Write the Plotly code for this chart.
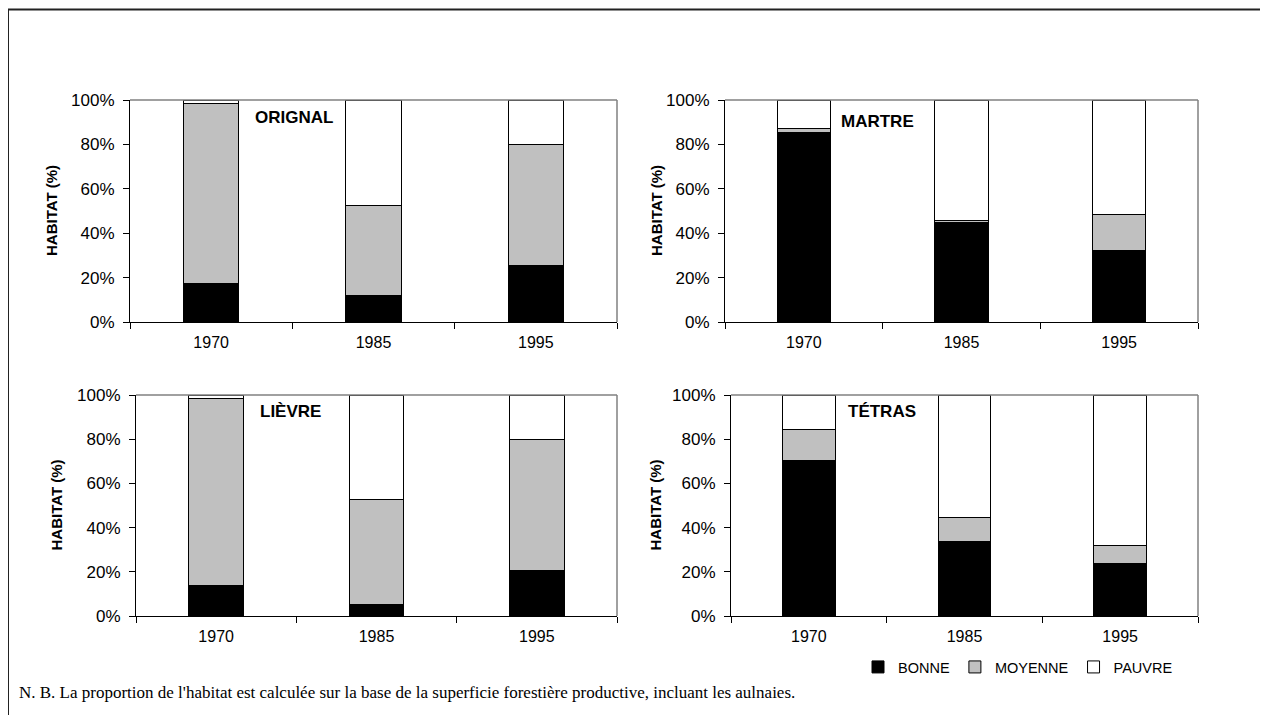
import plotly.graph_objects as go

W, H = 1268, 715
OFF = 8  # page body margin compensation

years = ["1970", "1985", "1995"]
series_names = ["BONNE", "MOYENNE", "PAUVRE"]
series_colors = ["#000000", "#C0C0C0", "#FFFFFF"]
y_ticks = [0, 20, 40, 60, 80, 100]
y_tick_labels = ["0%", "20%", "40%", "60%", "80%", "100%"]

orignal_bonne = [17.2, 12.1, 25.3]
orignal_moyenne = [81.2, 40.4, 54.5]
orignal_pauvre = [1.6, 47.5, 20.2]

martre_bonne = [85.2, 44.8, 32.0]
martre_moyenne = [2.1, 1.1, 16.4]
martre_pauvre = [12.7, 54.1, 51.6]

lievre_bonne = [13.7, 5.0, 20.5]
lievre_moyenne = [84.6, 47.7, 59.3]
lievre_pauvre = [1.7, 47.3, 20.2]

tetras_bonne = [70.5, 33.9, 23.6]
tetras_moyenne = [14.1, 10.7, 8.3]
tetras_pauvre = [15.4, 55.4, 68.1]

panel_names = ["ORIGNAL", "MARTRE", "LIÈVRE", "TÉTRAS"]
panel_data = [
    [orignal_bonne, orignal_moyenne, orignal_pauvre],
    [martre_bonne, martre_moyenne, martre_pauvre],
    [lievre_bonne, lievre_moyenne, lievre_pauvre],
    [tetras_bonne, tetras_moyenne, tetras_pauvre],
]

# plot-area boxes in pixels: (left, right, top, bottom)
boxes = [(130, 617, 100, 322), (725, 1198, 100, 322),
         (136, 617, 395, 616), (731, 1198, 395, 616)]
label_pos = [(294, 117), (878, 121), (290, 411), (882, 411)]
ytitle_x = [51, 656, 56, 655]


def px(x):
    return (x - OFF) / W


def py(y):
    return 1 - (y - OFF) / H


SANS = "Liberation Sans, Arial, sans-serif"
SERIF = "Liberation Serif, Times New Roman, serif"

fig = go.Figure()
layout = dict(
    width=W, height=H,
    margin=dict(l=0, r=0, t=0, b=0, pad=0, autoexpand=False),
    paper_bgcolor="white", plot_bgcolor="white",
    barmode="stack", bargap=0.66,
    font=dict(family=SANS, size=16, color="black"),
    showlegend=True,
    legend=dict(orientation="h", x=px(858), y=py(667),
                xanchor="left", yanchor="middle",
                font=dict(family=SANS, size=14.5, color="black"),
                traceorder="normal", bgcolor="rgba(0,0,0,0)",
                itemwidth=30),
)
shapes = []
annotations = []

for i, (name, data) in enumerate(zip(panel_names, panel_data)):
    l, r, t, b = boxes[i]
    ax = "" if i == 0 else str(i + 1)
    xref, yref = "x" + ax, "y" + ax
    for s, (sname, color) in enumerate(zip(series_names, series_colors)):
        fig.add_trace(go.Bar(
            x=years, y=data[s], name=sname, xaxis=xref, yaxis=yref,
            marker=dict(color=color, line=dict(color="black", width=1)),
            showlegend=(i == 0), legendgroup=sname,
        ))
    layout["xaxis" + ax] = dict(
        domain=[px(l), px(r)], anchor=yref, type="category",
        showline=True, linecolor="black", linewidth=1,
        ticks="outside", tickson="boundaries", ticklen=6, tickcolor="black",
        showgrid=False, zeroline=False, fixedrange=True, automargin=False,
        tickfont=dict(family=SANS, size=16, color="black"),
        ticklabelstandoff=6,
    )
    layout["yaxis" + ax] = dict(
        domain=[py(b), py(t)], anchor=xref, range=[0, 100],
        tickmode="array", tickvals=y_ticks, ticktext=y_tick_labels,
        showline=True, linecolor="black", linewidth=1,
        ticks="outside", ticklen=6, tickcolor="black",
        showgrid=False, zeroline=False, fixedrange=True, automargin=False,
        tickfont=dict(family=SANS, size=17, color="black"),
        ticklabelstandoff=5,
    )
    shapes.append(dict(type="line", xref=xref + " domain", yref=yref + " domain",
                       x0=0, x1=1, y0=1, y1=1, line=dict(color="#808080", width=1.5)))
    shapes.append(dict(type="line", xref=xref + " domain", yref=yref + " domain",
                       x0=1, x1=1, y0=0, y1=1, line=dict(color="#808080", width=1.5)))
    lx, ly = label_pos[i]
    annotations.append(dict(text="<b>%s</b>" % name, x=px(lx), y=py(ly),
                            xref="paper", yref="paper", showarrow=False,
                            xanchor="center", yanchor="middle",
                            font=dict(family=SANS, size=17, color="black")))
    annotations.append(dict(text="<b>HABITAT (%)</b>", x=px(ytitle_x[i]),
                            y=py((t + b) / 2), xref="paper", yref="paper",
                            showarrow=False, textangle=-90,
                            xanchor="center", yanchor="middle",
                            font=dict(family=SANS, size=15, color="black")))

annotations.append(dict(
    text="N. B. La proportion de l'habitat est calculée sur la base de la superficie forestière productive, incluant les aulnaies.",
    x=px(17), y=py(692), xref="paper", yref="paper", showarrow=False,
    xanchor="left", yanchor="middle",
    font=dict(family=SERIF, size=17, color="black")))

# outer frame (top and left)
shapes.append(dict(type="line", xref="paper", yref="paper",
                   x0=px(8), x1=1, y0=py(9.5), y1=py(9.5),
                   line=dict(color="#222222", width=2)))
shapes.append(dict(type="line", xref="paper", yref="paper",
                   x0=px(8), x1=px(8), y0=0, y1=py(9.5),
                   line=dict(color="#222222", width=2)))

layout["shapes"] = shapes
layout["annotations"] = annotations
fig.update_layout(**layout)
fig.write_html("out.html")
